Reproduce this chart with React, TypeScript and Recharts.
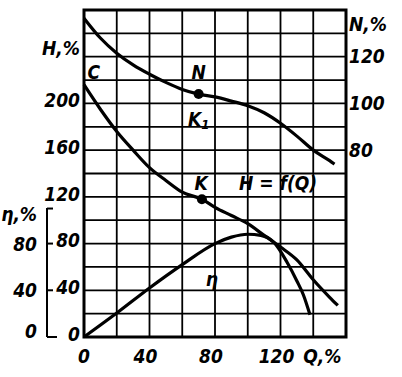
import { CartesianGrid, Line, LineChart, ReferenceArea, ReferenceDot, XAxis, YAxis } from 'recharts';

// head curve H = f(Q), both in %
const H_Q = [0, 10, 20, 30, 40, 50, 60, 72, 80, 90, 100, 110, 120, 130, 140, 150, 155];
const H_VAL = [216, 195, 176, 160, 145, 134, 124, 118, 111, 104, 97, 87, 77, 66, 49, 34, 27];

// power N, %
const N_Q = [0, 10, 20, 30, 40, 50, 60, 70, 80, 90, 100, 110, 120, 130, 140, 150, 153];
const N_VAL = [136.5, 128, 121.5, 116.5, 112.5, 109, 106, 104, 102.8, 101, 99, 96, 91.5, 86, 80, 75.5, 74];

// efficiency eta, %
const ETA_Q = [0, 20, 40, 60, 80, 90, 100, 108, 116, 124, 130, 134, 138];
const ETA_VAL = [0, 20.5, 42, 62, 80, 85.5, 88, 87, 81, 64, 48, 36, 19];

const Q_LABELS = [0, 40, 80, 120];
const H_TICKS = [0, 40, 80, 120, 160, 200, 245];
const ETA_TICKS = [0, 40, 80, 110];
const N_TICKS = [80, 100, 120, 134];
const GRID_Q = [0, 20, 40, 60, 80, 100, 120, 140, 160];
const GRID_H = [0, 20, 40, 60, 80, 100, 120, 140, 160, 180, 200, 220, 240, 260, 280];

const POINT_N = { q: 70, v: 104 };
const POINT_K = { q: 72, v: 118 };

const hData = H_Q.map((q, i) => ({ q, h: H_VAL[i] }));
const nData = N_Q.map((q, i) => ({ q, n: N_VAL[i] }));
const etaData = ETA_Q.map((q, i) => ({ q, eta: ETA_VAL[i] }));

const FONT = {
  fontFamily: '"DejaVu Sans Condensed", "Liberation Sans Narrow", "DejaVu Sans", sans-serif',
  fontStyle: 'italic',
  fontWeight: 700,
  fontSize: 19,
  fill: '#000',
};

// x ticks: every grid line, but only 0/40/80/120 are labelled, 140 carries the axis name
const QTick = ({ x, y, payload }: any) => {
  const v = payload.value;
  const txt = Q_LABELS.includes(v) ? String(v) : v === 140 ? 'Q,%' : '';
  if (!txt) return null;
  const dx = v === 140 ? 9 : v === 0 ? 0 : -4;
  return (
    <text x={x + dx} y={y} dy={9} textAnchor="middle" dominantBaseline="central" {...FONT}>
      {txt}
    </text>
  );
};

const EtaTick = ({ x, y, payload }: any) => {
  const top = payload.value === 110;
  return (
    <g>
      <line x1={x} x2={x + (payload.value === 0 ? 10 : 6)} y1={y} y2={y} stroke="#000" strokeWidth={2} />
      <text x={x - 10} y={y} dy={top ? 5 : payload.value === 0 ? -6 : 0} textAnchor="end" dominantBaseline="central" {...FONT}>
        {top ? 'η,%' : payload.value}
      </text>
    </g>
  );
};

const note = (txt: any) => (p: any) => (
  <text x={p.cx} y={p.cy} textAnchor="middle" dominantBaseline="central" {...FONT}>
    {txt}
  </text>
);

export default function App() {
  return (
    <div style={{ position: 'absolute', left: 0, top: 0, background: '#fff' }}>
      <LineChart width={402} height={377} margin={{ top: 10, right: 0, bottom: 0, left: 0 }}>
        <XAxis
          dataKey="q"
          type="number"
          domain={[0, 160]}
          ticks={GRID_Q}
          height={40}
          axisLine={false}
          tickLine={false}
          tickSize={0}
          tickMargin={10}
          tick={<QTick />}
        />
        <YAxis yAxisId="grid" type="number" domain={[0, 280]} ticks={GRID_H} hide allowDataOverflow />
        <CartesianGrid yAxisId="grid" stroke="#000" strokeWidth={1.8} />
        <ReferenceArea yAxisId="grid" x1={0} x2={160} y1={0} y2={280} fill="none" stroke="#000" strokeWidth={3} />

        <YAxis
          yAxisId="H"
          type="number"
          domain={[0, 280]}
          ticks={H_TICKS}
          width={37}
          axisLine={false}
          tickLine={false}
          tickSize={0}
          tickMargin={4}
          tick={{ ...FONT, dy: -3 }}
          tickFormatter={(v) => (v === 245 ? 'H,%' : String(v))}
        />
        <YAxis
          yAxisId="eta"
          type="number"
          domain={[0, 280]}
          ticks={ETA_TICKS}
          width={47}
          axisLine={{ stroke: '#000', strokeWidth: 2, strokeDasharray: '0 198 140' }}
          tickLine={false}
          tickSize={0}
          tickMargin={0}
          tick={<EtaTick />}
        />
        <YAxis
          yAxisId="N"
          orientation="right"
          type="number"
          domain={[0, 140]}
          ticks={N_TICKS}
          width={56}
          axisLine={false}
          tickLine={false}
          tickSize={0}
          tickMargin={3}
          tick={FONT}
          tickFormatter={(v) => (v === 134 ? 'N,%' : String(v))}
        />

        <Line data={hData} dataKey="h" yAxisId="H" type="monotone" stroke="#000" strokeWidth={3.2} dot={false} isAnimationActive={false} />
        <Line data={nData} dataKey="n" yAxisId="N" type="monotone" stroke="#000" strokeWidth={3.2} dot={false} isAnimationActive={false} />
        <Line data={etaData} dataKey="eta" yAxisId="eta" type="monotone" stroke="#000" strokeWidth={3.2} dot={false} isAnimationActive={false} />

        <ReferenceDot x={POINT_N.q} y={POINT_N.v} yAxisId="N" r={5} fill="#000" stroke="none" />
        <ReferenceDot x={POINT_K.q} y={POINT_K.v} yAxisId="H" r={5} fill="#000" stroke="none" />

        <ReferenceDot x={6} y={227} yAxisId="H" shape={note('C')} />
        <ReferenceDot x={70} y={227} yAxisId="H" shape={note('N')} />
        <ReferenceDot x={70} y={187} yAxisId="H" shape={note(<>K<tspan fontSize={13} dy={5}>1</tspan></>)} />
        <ReferenceDot x={71.5} y={132} yAxisId="H" shape={note('K')} />
        <ReferenceDot x={118.5} y={132} yAxisId="H" shape={note('H = f(Q)')} />
        <ReferenceDot x={78} y={50} yAxisId="H" shape={note('η')} />
      </LineChart>
    </div>
  );
}
